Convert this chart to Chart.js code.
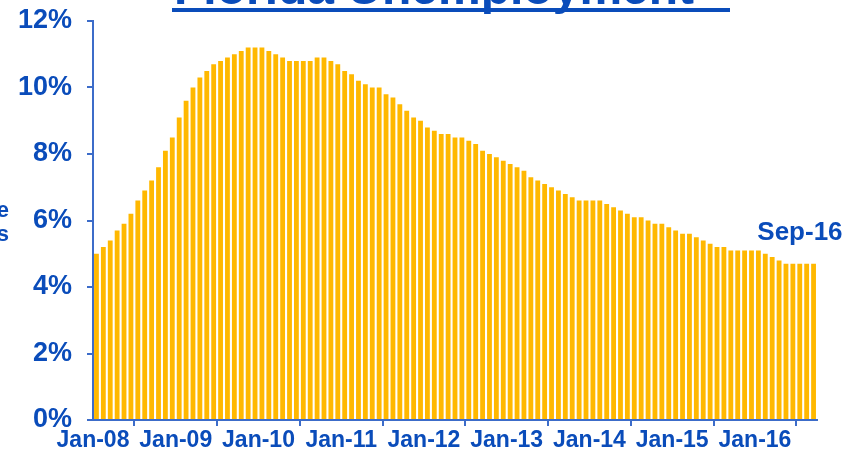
<!DOCTYPE html>
<html>
<head>
<meta charset="utf-8">
<script src="https://cdn.jsdelivr.net/npm/chart.js@4.4.1/dist/chart.umd.min.js"></script>
<style>
  html, body { margin: 0; padding: 0; background: #ffffff; }
  #wrap { width: 844px; height: 452px; position: relative; }
</style>
</head>
<body>
<div id="wrap"><canvas id="c" width="844" height="452"></canvas></div>
<script>
// ---- Data (monthly Florida unemployment rate, %) ----
const lastMonthLabel = 'Sep-16';
const rates2008 = [5.0, 5.2, 5.4, 5.7, 5.9, 6.2, 6.6, 6.9, 7.2, 7.6, 8.1, 8.5];
const rates2009 = [9.1, 9.6, 10.0, 10.3, 10.5, 10.7, 10.8, 10.9, 11.0, 11.1, 11.2, 11.2];
const rates2010 = [11.2, 11.1, 11.0, 10.9, 10.8, 10.8, 10.8, 10.8, 10.9, 10.9, 10.8, 10.7];
const rates2011 = [10.5, 10.4, 10.2, 10.1, 10.0, 10.0, 9.8, 9.7, 9.5, 9.3, 9.1, 9.0];
const rates2012 = [8.8, 8.7, 8.6, 8.6, 8.5, 8.5, 8.4, 8.3, 8.1, 8.0, 7.9, 7.8];
const rates2013 = [7.7, 7.6, 7.5, 7.3, 7.2, 7.1, 7.0, 6.9, 6.8, 6.7, 6.6, 6.6];
const rates2014 = [6.6, 6.6, 6.5, 6.4, 6.3, 6.2, 6.1, 6.1, 6.0, 5.9, 5.9, 5.8];
const rates2015 = [5.7, 5.6, 5.6, 5.5, 5.4, 5.3, 5.2, 5.2, 5.1, 5.1, 5.1, 5.1];
const rates2016 = [5.1, 5.0, 4.9, 4.8, 4.7, 4.7, 4.7, 4.7, 4.7];
const xTickLabels = ['Jan-08', 'Jan-09', 'Jan-10', 'Jan-11', 'Jan-12', 'Jan-13', 'Jan-14', 'Jan-15', 'Jan-16'];
const yTickValues = [0, 2, 4, 6, 8, 10, 12];
const titleText = 'Florida Unemployment';
const yTitleLines = ['Unemployment Rate', 'Florida Trends'];

const rates = [].concat(rates2008, rates2009, rates2010, rates2011, rates2012,
                        rates2013, rates2014, rates2015, rates2016);
const points = rates.map((v, i) => ({ x: i + 0.5, y: v }));
const nMonths = rates.length;

const BLUE = '#0A4CBA';
const AXIS = '#3C6CC9';
const BAR = '#FFB800';
const FONT = '"Liberation Sans", Arial, sans-serif';

const decorPlugin = {
  id: 'decor',
  afterDraw(chart) {
    const ctx = chart.ctx;
    const xs = chart.scales.x, ys = chart.scales.y;
    ctx.save();
    // Title (mostly cropped off the top)
    ctx.fillStyle = BLUE;
    ctx.font = 'bold 48px ' + FONT;
    ctx.textAlign = 'left';
    ctx.textBaseline = 'alphabetic';
    ctx.fillText(titleText, 174, 4);
    ctx.fillRect(172, 8, 558, 4);
    // Y-axis title (cropped at left)
    ctx.font = 'bold 22px ' + FONT;
    ctx.textAlign = 'right';
    ctx.textBaseline = 'middle';
    ctx.fillText(yTitleLines[0], 9, 211);
    ctx.fillText(yTitleLines[1], 9, 235);
    // Last month label
    const lastX = xs.getPixelForValue(nMonths - 0.5);
    const lastY = ys.getPixelForValue(rates[nMonths - 1]);
    ctx.font = 'bold 26px ' + FONT;
    ctx.textAlign = 'right';
    ctx.fillText(lastMonthLabel, lastX + 29, lastY - 31);
    ctx.restore();
  }
};

new Chart(document.getElementById('c'), {
  type: 'bar',
  data: {
    datasets: [{
      data: points,
      backgroundColor: BAR,
      borderWidth: 0,
      barPercentage: 0.7,
      categoryPercentage: 1.0
    }]
  },
  options: {
    responsive: false,
    animation: false,
    events: [],
    layout: { padding: { left: 0, right: 27, top: 21, bottom: 0 } },
    plugins: { legend: { display: false }, tooltip: { enabled: false }, title: { display: false } },
    scales: {
      x: {
        type: 'linear',
        min: 0,
        max: nMonths,
        offset: false,
        afterBuildTicks: (s) => { s.ticks = xTickLabels.map((_, i) => ({ value: i * 12 })); },
        afterFit: (s) => { s.height = 32; s.paddingLeft = 0; s.paddingRight = 0; },
        ticks: {
          autoSkip: false,
          maxRotation: 0,
          color: BLUE,
          font: { family: FONT, size: 23, weight: 'bold' },
          padding: 1,
          callback: (v) => xTickLabels[Math.round(v / 12)]
        },
        grid: { drawOnChartArea: false, tickLength: 6, color: AXIS, lineWidth: 2 },
        border: { color: AXIS, width: 2 }
      },
      y: {
        min: 0,
        max: 12,
        afterBuildTicks: (s) => { s.ticks = yTickValues.map(v => ({ value: v })); },
        afterFit: (s) => { s.width = 93; s.paddingTop = 0; s.paddingBottom = 0; },
        ticks: {
          color: BLUE,
          font: { family: FONT, size: 27, weight: 'bold' },
          padding: 15,
          callback: (v) => v + '%'
        },
        grid: { drawOnChartArea: false, tickLength: 6, color: AXIS, lineWidth: 2 },
        border: { color: AXIS, width: 2 }
      }
    }
  },
  plugins: [decorPlugin]
});
</script>
</body>
</html>
